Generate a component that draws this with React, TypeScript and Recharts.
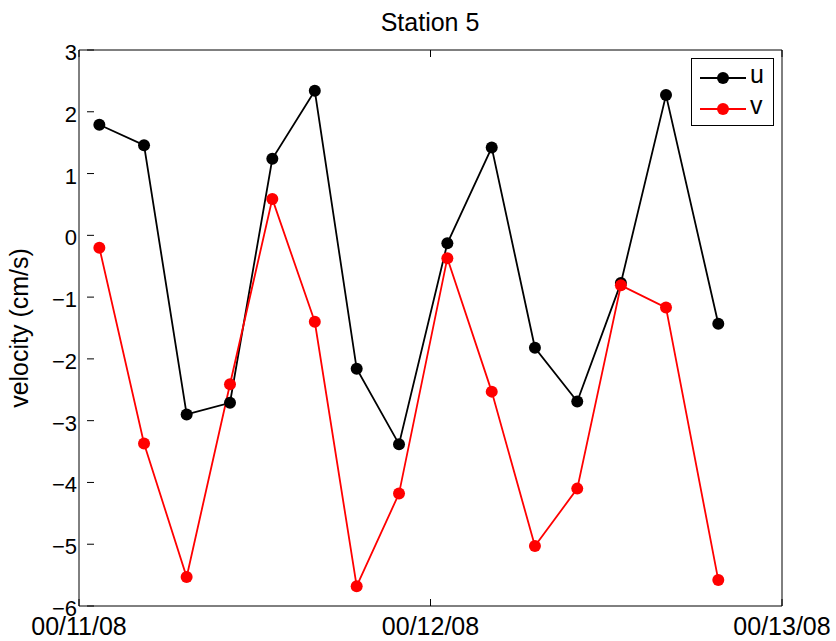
import { Legend, Line, LineChart, XAxis, YAxis } from "recharts";

// hours after 00/11/08 00:00
const hours = [1.39, 4.44, 7.35, 10.31, 13.2, 16.1, 18.96, 21.85, 25.15, 28.18, 31.13, 34.02, 37.0, 40.08, 43.65];
const uVals = [1.79, 1.46, -2.9, -2.71, 1.24, 2.34, -2.16, -3.38, -0.13, 1.42, -1.82, -2.69, -0.77, 2.27, -1.43];
const vVals = [-0.2, -3.37, -5.53, -2.41, 0.59, -1.4, -5.68, -4.18, -0.37, -2.53, -5.03, -4.1, -0.81, -1.17, -5.58];

const xTicks = [0, 24, 48];
const xTickLabels = ["00/11/08", "00/12/08", "00/13/08"];
const yTicks = [-6, -5, -4, -3, -2, -1, 0, 1, 2, 3];

const FONT = '"Liberation Sans", Arial, Helvetica, sans-serif';
const TICK_LEN = 7;

const data = hours.map((t, i) => ({ t, u: uVals[i], v: vVals[i] }));

const fmtY = (n: number) => (n < 0 ? `\u2212${Math.abs(n)}` : `${n}`);

function LeftTick({ x, y, payload }: any) {
  const edge = x + 10;
  return (
    <g>
      <line x1={edge} x2={edge + TICK_LEN} y1={y} y2={y} stroke="#000" />
      <text x={x} y={y} dy={10} textAnchor="end" fontSize={22} fontFamily={FONT} fill="#000">
        {fmtY(payload.value)}
      </text>
    </g>
  );
}

function RightTick({ x, y }: any) {
  return <line x1={x} x2={x - TICK_LEN} y1={y} y2={y} stroke="#000" />;
}

function BottomTick({ x, y, payload, index }: any) {
  return (
    <g>
      <line x1={x} x2={x} y1={y} y2={y - TICK_LEN} stroke="#000" />
      <text x={x} y={y + 29} textAnchor="middle" fontSize={25} fontFamily={FONT} fill="#000">
        {xTickLabels[index] ?? payload.value}
      </text>
    </g>
  );
}

function TopTick({ x, y }: any) {
  return <line x1={x} x2={x} y1={y} y2={y + TICK_LEN} stroke="#000" />;
}

function YLabel({ viewBox }: any) {
  const x = 28;
  const y = viewBox.y + viewBox.height / 2;
  return (
    <text x={x} y={y} transform={`rotate(-90, ${x}, ${y})`} textAnchor="middle"
      fontSize={25} fontFamily={FONT} fill="#000">
      velocity (cm/s)
    </text>
  );
}

function LegendBox({ payload }: any) {
  return (
    <div style={{
      boxSizing: "border-box", width: 83, height: 68, border: "1px solid #000",
      background: "#fff", fontFamily: FONT, fontSize: 25, paddingTop: 3,
    }}>
      {(payload ?? []).map((p: any) => (
        <div key={p.value} style={{ display: "flex", alignItems: "center", height: 31 }}>
          <svg width={58} height={14} style={{ flex: "none" }}>
            <line x1={8} x2={54} y1={7} y2={7} stroke={p.color} strokeWidth={1.8} />
            <circle cx={31} cy={7} r={6} fill={p.color} />
          </svg>
          <span style={{ lineHeight: "25px", marginTop: -6 }}>{p.value}</span>
        </div>
      ))}
    </div>
  );
}

export default function App() {
  return (
    <div style={{ position: "absolute", left: 0, top: 0, width: 836, height: 641, background: "#fff" }}>
      <div style={{
        position: "absolute", left: 0, width: 860, top: 10, textAlign: "center",
        fontFamily: FONT, fontSize: 25, lineHeight: "25px", color: "#000",
      }}>
        Station 5
      </div>
      <LineChart width={836} height={641} data={data}
        margin={{ top: 0, right: 0, bottom: 0, left: 0 }}>
        <XAxis dataKey="t" type="number" domain={[0, 48]} ticks={xTicks}
          height={35} tickSize={0} tickMargin={0} tickLine={false}
          axisLine={{ stroke: "#000" }} tick={<BottomTick />} interval={0} />
        <XAxis xAxisId="top" orientation="top" dataKey="t" type="number" domain={[0, 48]}
          ticks={xTicks} height={50} tickSize={0} tickMargin={0} tickLine={false}
          axisLine={{ stroke: "#000" }} tick={<TopTick />} interval={0} />
        <YAxis type="number" domain={[-6, 3]} ticks={yTicks} width={79}
          tickSize={0} tickMargin={2} tickLine={false} interval={0}
          axisLine={{ stroke: "#000" }} tick={<LeftTick />}
          label={<YLabel />} />
        <YAxis yAxisId="right" orientation="right" type="number" domain={[-6, 3]}
          ticks={yTicks} width={54} tickSize={0} tickMargin={0} tickLine={false}
          interval={0} axisLine={{ stroke: "#000" }} tick={<RightTick />} />
        <Legend layout="vertical" align="center" verticalAlign="middle"
          wrapperStyle={{ position: "absolute", left: 691, top: 58, width: 83, height: 68 }}
          content={<LegendBox />} />
        <Line dataKey="u" name="u" stroke="#000" strokeWidth={1.8}
          dot={{ r: 6, fill: "#000", stroke: "#000", strokeWidth: 0 }}
          activeDot={false} isAnimationActive={false} />
        <Line dataKey="v" name="v" stroke="#ff0000" strokeWidth={1.8}
          dot={{ r: 6, fill: "#ff0000", stroke: "#ff0000", strokeWidth: 0 }}
          activeDot={false} isAnimationActive={false} />
      </LineChart>
    </div>
  );
}
